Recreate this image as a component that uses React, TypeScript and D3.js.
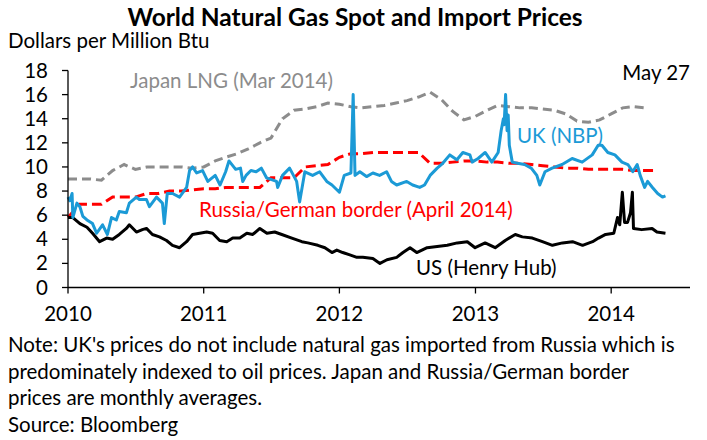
import React from 'react';
import * as d3 from 'd3';

// monthly averages (Japan LNG, Russia/German border)
const monthDates = [
  '2010-01', '2010-02', '2010-03', '2010-04', '2010-05', '2010-06', '2010-07', '2010-08', '2010-09', '2010-10', '2010-11', '2010-12',
  '2011-01', '2011-02', '2011-03', '2011-04', '2011-05', '2011-06', '2011-07', '2011-08', '2011-09', '2011-10', '2011-11', '2011-12',
  '2012-01', '2012-02', '2012-03', '2012-04', '2012-05', '2012-06', '2012-07', '2012-08', '2012-09', '2012-10', '2012-11', '2012-12',
  '2013-01', '2013-02', '2013-03', '2013-04', '2013-05', '2013-06', '2013-07', '2013-08', '2013-09', '2013-10', '2013-11', '2013-12',
  '2014-01', '2014-02', '2014-03', '2014-04', '2014-05',
];

const japanValues = [
  9.0, 9.0, 9.0, 8.9, 9.7, 10.2, 9.8, 10.0, 10.0, 10.0, 10.0, 9.9,
  10.0, 10.5, 10.8, 11.1, 11.5, 12.0, 12.4, 14.0, 14.7, 14.8, 15.0, 15.3,
  15.2, 15.0, 14.9, 15.0, 15.1, 15.3, 15.5, 15.8, 16.2, 15.6, 14.6, 13.9,
  14.2, 14.7, 15.1, 15.0, 14.9, 14.9, 14.8, 14.7, 14.4, 13.8, 13.7, 13.9,
  14.4, 14.9, 15.0, 14.9,
];

const russiaValues = [
  5.8, 6.9, 6.9, 6.9, 7.5, 7.5, 7.5, 7.8, 7.8, 8.0, 8.0, 8.1,
  8.2, 8.2, 8.3, 8.3, 8.3, 8.3, 9.1, 9.1, 9.1, 10.0, 10.1, 10.2,
  10.8, 11.1, 11.1, 11.2, 11.2, 11.2, 11.2, 11.2, 10.3, 10.3, 10.4, 10.5,
  10.5, 10.4, 10.4, 10.3, 10.3, 10.2, 10.1, 10.0, 9.9, 9.9, 9.8, 9.8,
  9.8, 9.8, 9.7, 9.7, 9.7,
];

// UK (NBP) spot
const ukDates = [
  '2010-01-01', '2010-01-06', '2010-01-12', '2010-01-14', '2010-01-25', '2010-02-02', '2010-02-10', '2010-02-21',
  '2010-03-08', '2010-03-19', '2010-04-04', '2010-04-17', '2010-04-28', '2010-05-11', '2010-05-19', '2010-06-07',
  '2010-06-15', '2010-07-04', '2010-07-12', '2010-07-31', '2010-08-08', '2010-08-27', '2010-09-12', '2010-09-17',
  '2010-09-25', '2010-10-09', '2010-10-28', '2010-11-16', '2010-11-24', '2010-12-02', '2010-12-13', '2010-12-29',
  '2011-01-12', '2011-02-01', '2011-02-14', '2011-03-01', '2011-03-10', '2011-03-28', '2011-04-10', '2011-04-16',
  '2011-04-25', '2011-05-08', '2011-05-22', '2011-06-05', '2011-06-19', '2011-07-16', '2011-07-19', '2011-08-01',
  '2011-08-20', '2011-09-08', '2011-09-16', '2011-09-30', '2011-10-21', '2011-11-09', '2011-11-28', '2011-12-12',
  '2012-01-01', '2012-01-14', '2012-02-01', '2012-02-07', '2012-02-12', '2012-02-25', '2012-03-14', '2012-03-31',
  '2012-04-18', '2012-05-07', '2012-05-20', '2012-06-03', '2012-06-30', '2012-07-16', '2012-08-04', '2012-08-17',
  '2012-09-01', '2012-09-20', '2012-10-05', '2012-10-24', '2012-11-12', '2012-11-28', '2012-12-17', '2012-12-23',
  '2013-01-08', '2013-01-27', '2013-02-14', '2013-03-03', '2013-03-11', '2013-03-17', '2013-03-19', '2013-03-23',
  '2013-03-27', '2013-03-30', '2013-04-02', '2013-04-10', '2013-04-24', '2013-05-13', '2013-05-31', '2013-06-15',
  '2013-06-23', '2013-07-07', '2013-07-26', '2013-08-22', '2013-09-18', '2013-10-15', '2013-11-11', '2013-11-27',
  '2013-12-07', '2013-12-23', '2014-01-11', '2014-01-30', '2014-02-15', '2014-02-28', '2014-03-12', '2014-03-20',
  '2014-04-01', '2014-04-09', '2014-04-22', '2014-05-06', '2014-05-19', '2014-05-27',
];
const ukValues = [
  7.5, 7.2, 7.8, 5.8, 7.0, 6.7, 5.9, 5.6,
  5.3, 4.5, 5.2, 4.4, 5.8, 5.6, 6.3, 6.2,
  7.0, 7.5, 7.3, 7.3, 6.7, 7.5, 7.0, 5.3,
  7.8, 7.8, 7.5, 8.3, 9.7, 10.0, 9.5, 9.7,
  8.8, 9.3, 8.5, 9.6, 10.5, 9.8, 9.9, 8.8,
  9.3, 9.7, 9.6, 9.9, 9.1, 8.8, 8.3, 9.3,
  9.9, 8.8, 7.1, 9.6, 9.3, 9.6, 8.8, 8.5,
  7.9, 9.3, 9.5, 16.0, 9.3, 9.6, 9.2, 9.5,
  9.3, 9.6, 8.8, 8.5, 8.8, 8.5, 8.3, 8.5,
  9.3, 9.9, 10.3, 11.0, 10.6, 11.2, 11.0, 10.4,
  10.7, 11.2, 10.4, 11.2, 13.0, 14.0, 13.5, 16.0,
  13.0, 14.3, 11.8, 10.4, 10.3, 10.2, 9.9, 9.3,
  8.5, 9.6, 9.9, 10.2, 10.7, 10.4, 11.0, 11.8,
  11.8, 11.2, 11.0, 10.4, 10.2, 9.6, 10.2, 9.3,
  8.3, 8.8, 8.3, 7.8, 7.5, 7.6,
];

// US (Henry Hub) spot
const usDates = [
  '2010-01-01', '2010-01-14', '2010-02-02', '2010-02-21', '2010-03-08', '2010-03-27', '2010-04-15', '2010-05-01',
  '2010-05-19', '2010-06-07', '2010-06-15', '2010-07-04', '2010-07-20', '2010-07-31', '2010-08-16', '2010-09-04',
  '2010-09-23', '2010-10-09', '2010-10-28', '2010-11-16', '2010-12-02', '2010-12-21', '2011-01-09', '2011-01-25',
  '2011-02-13', '2011-03-04', '2011-03-20', '2011-04-08', '2011-04-27', '2011-05-13', '2011-06-01', '2011-06-20',
  '2011-07-11', '2011-07-30', '2011-08-26', '2011-09-22', '2011-10-08', '2011-11-04', '2011-11-23', '2011-12-12',
  '2011-12-25', '2012-01-10', '2012-01-29', '2012-02-17', '2012-03-04', '2012-03-31', '2012-04-19', '2012-05-08',
  '2012-06-03', '2012-06-20', '2012-07-09', '2012-07-27', '2012-08-24', '2012-09-20', '2012-10-17', '2012-11-13',
  '2012-12-10', '2012-12-31', '2013-01-27', '2013-02-23', '2013-03-22', '2013-04-18', '2013-05-07', '2013-06-03',
  '2013-06-30', '2013-07-27', '2013-08-23', '2013-09-19', '2013-10-16', '2013-11-12', '2013-11-28', '2013-12-17',
  '2014-01-08', '2014-01-18', '2014-01-24', '2014-01-31', '2014-02-06', '2014-02-14', '2014-02-22', '2014-02-27',
  '2014-03-02', '2014-03-24', '2014-04-21', '2014-05-04', '2014-05-27',
];
const usValues = [
  5.8, 5.8, 5.3, 5.0, 4.5, 3.8, 4.1, 4.0,
  4.4, 4.9, 5.2, 4.6, 4.8, 4.9, 4.4, 4.2,
  3.9, 3.5, 3.3, 3.8, 4.4, 4.5, 4.6, 4.5,
  3.9, 3.8, 4.1, 4.1, 4.5, 4.4, 4.9, 4.5,
  4.6, 4.4, 4.1, 3.8, 3.7, 3.5, 3.3, 2.9,
  3.1, 2.9, 2.7, 2.5, 2.5, 2.4, 2.0, 2.3,
  2.5, 2.9, 3.3, 2.9, 3.3, 3.4, 3.5, 3.7,
  3.8, 3.3, 3.7, 3.3, 3.9, 4.4, 4.2, 4.1,
  3.8, 3.5, 3.7, 3.8, 3.5, 3.8, 4.1, 4.4,
  4.5, 5.8, 5.2, 7.9, 5.4, 5.4, 6.2, 7.9,
  4.9, 4.8, 4.9, 4.6, 4.5,
];

const yearLabels = ['2010', '2011', '2012', '2013', '2014'];
const yTicks = [0, 2, 4, 6, 8, 10, 12, 14, 16, 18];

const noteLines = [
  "Note: UK's prices do not include natural gas imported from Russia which is",
  'predominately indexed to oil prices. Japan and Russia/German border',
  'prices are monthly averages.',
  'Source: Bloomberg',
];

const font = 'Lato, "Liberation Sans", sans-serif';
const fs = 20.5;

export default function App() {
  const parseMonth = d3.timeParse('%Y-%m');
  const parseDay = d3.timeParse('%Y-%m-%d');

  const x = d3.scaleTime()
    .domain([new Date(2010, 0, 1), new Date(2014, 7, 1)])
    .range([68, 690]);
  const y = d3.scaleLinear().domain([0, 18]).range([287.5, 70.5]);

  const line = d3.line<[Date, number]>()
    .x(d => x(d[0]))
    .y(d => y(d[1]));

  const japan = japanValues.map((v, i) => [parseMonth(monthDates[i])!, v] as [Date, number]);
  const russia = russiaValues.map((v, i) => [parseMonth(monthDates[i])!, v] as [Date, number]);
  const uk = ukValues.map((v, i) => [parseDay(ukDates[i])!, v] as [Date, number]);
  const us = usValues.map((v, i) => [parseDay(usDates[i])!, v] as [Date, number]);

  return (
    <svg width={707} height={440} style={{ position: 'absolute', left: 0, top: 0, background: '#fff' }}
      fontFamily={font}>
      <text x={355} y={26} textAnchor="middle" fontSize={24.5} fontWeight="bold" fill="#000">
        World Natural Gas Spot and Import Prices
      </text>
      <text x={8} y={48} fontSize={fs} fill="#000">Dollars per Million Btu</text>

      {/* series */}
      <path d={line(japan)!} fill="none" stroke="#8c8c8c" strokeWidth={3} strokeDasharray="9 5" />
      <path d={line(russia)!} fill="none" stroke="#ff0000" strokeWidth={3} strokeDasharray="10 5" />
      <path d={line(us)!} fill="none" stroke="#000" strokeWidth={3} strokeLinejoin="round" />
      <path d={line(uk)!} fill="none" stroke="#1b9ad6" strokeWidth={3} strokeLinejoin="round" />

      {/* axes */}
      <g stroke="#000" strokeWidth={1.3}>
        <line x1={x.range()[0]} x2={x.range()[0]} y1={y(18)} y2={y(0)} />
        <line x1={x.range()[0]} x2={x.range()[1]} y1={y(0)} y2={y(0)} />
        {yTicks.map(t => (
          <line key={t} x1={x.range()[0] - 6} x2={x.range()[0]} y1={y(t)} y2={y(t)} />
        ))}
        {yearLabels.map(yr => {
          const px = x(new Date(+yr, 0, 1));
          return <line key={yr} x1={px} x2={px} y1={y(0)} y2={y(0) + 6} />;
        })}
      </g>
      {yTicks.map(t => (
        <text key={t} x={48} y={y(t) + 7} textAnchor="end" fontSize={fs} fill="#000">{t}</text>
      ))}
      {yearLabels.map(yr => (
        <text key={yr} x={x(new Date(+yr, 0, 1))} y={321} textAnchor="middle" fontSize={fs} fill="#000">{yr}</text>
      ))}

      {/* labels */}
      <text x={130} y={88} fontSize={fs} fill="#8c8c8c">Japan LNG (Mar 2014)</text>
      <text x={690} y={80} textAnchor="end" fontSize={fs} fill="#000">May 27</text>
      <text x={517} y={143} fontSize={fs} fill="#1b9ad6">UK (NBP)</text>
      <text x={199} y={217} fontSize={fs} fill="#ff0000">Russia/German border (April 2014)</text>
      <text x={416} y={275} fontSize={fs} fill="#000">US (Henry Hub)</text>

      {noteLines.map((l, i) => (
        <text key={i} x={8} y={352 + i * 26.5} fontSize={fs} fill="#000">{l}</text>
      ))}
    </svg>
  );
}
